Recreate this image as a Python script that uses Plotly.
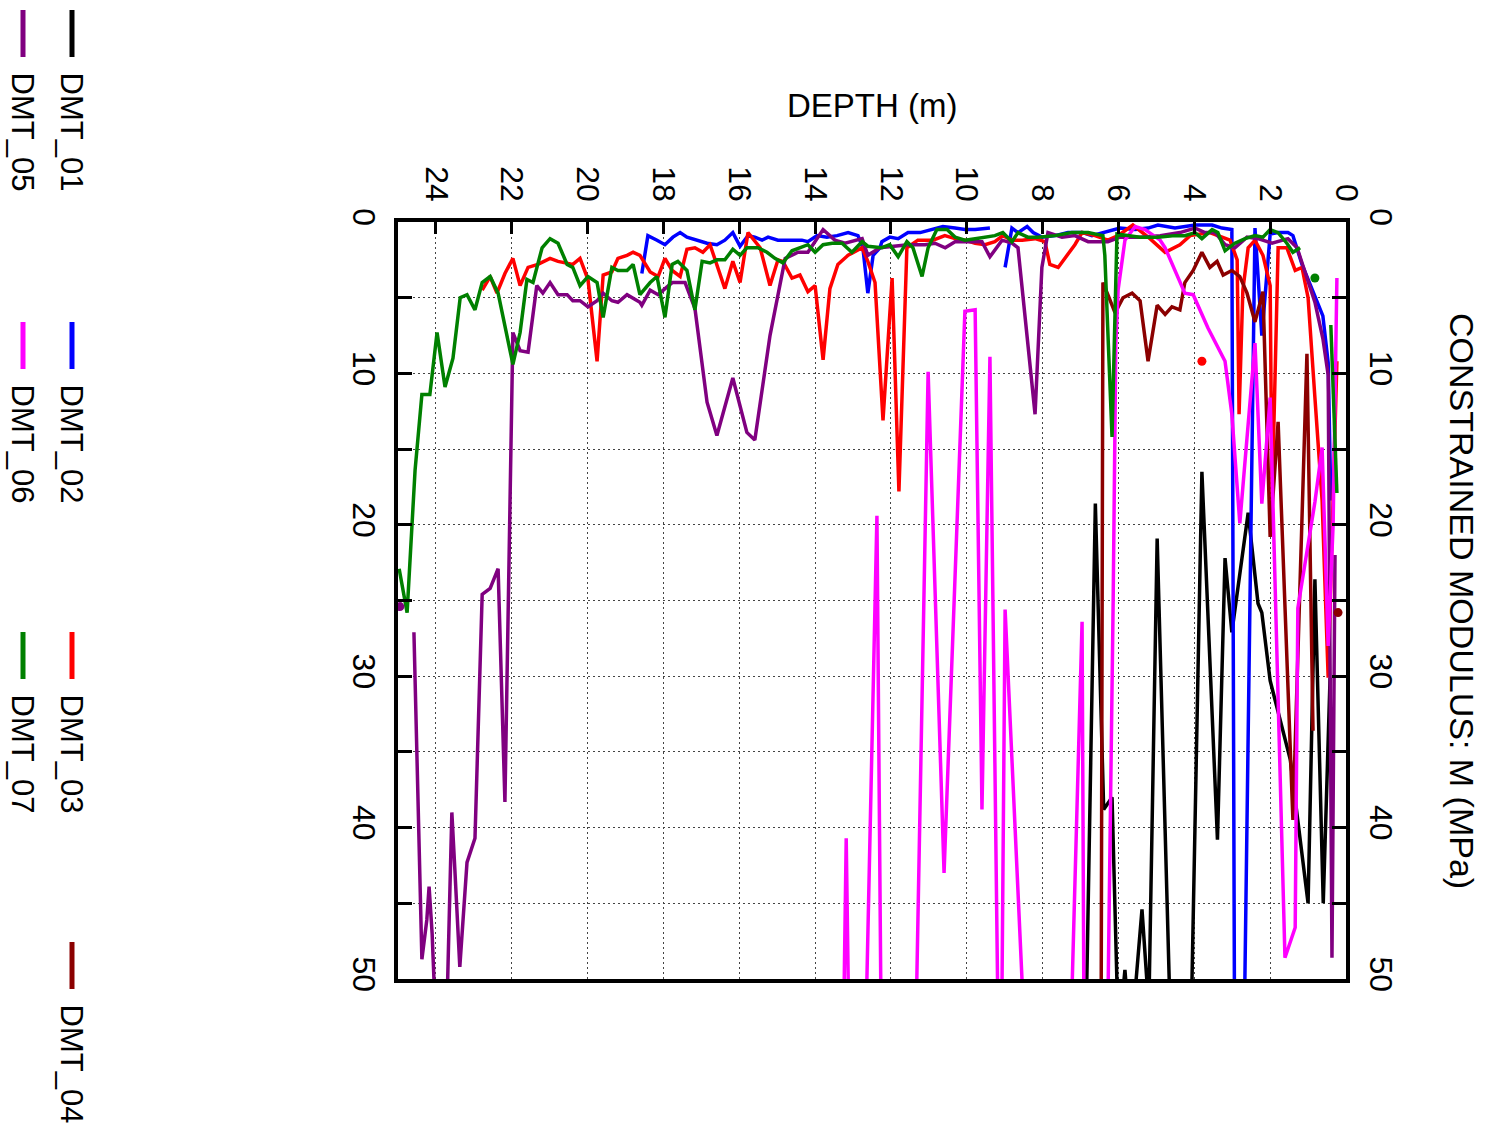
import plotly.graph_objects as go

# ---------------- data (depth in m, constrained modulus M in MPa) ----------------
dmt01_depth = [6.87, 6.61, 6.39, 6.17, 6.0, 5.88, 5.83, 5.78, 5.6, 5.38, 5.2, 4.98, 4.63, 4.1, 3.8,
               3.39, 3.19, 3.01, 2.58, 2.32, 2.22, 2.0, 1.47, 1.0, 0.82, 0.6, 0.42]
dmt01_mod = [55, 18.6, 38.8, 38.0, 54, 51, 49.4, 51, 52, 45.4, 52, 20.9, 53, 55, 16.5,
             40.8, 22.2, 27.1, 19.2, 25.2, 25.8, 30.3, 35.5, 45.0, 23.6, 45.0, 30.1]

dmt02_depth = [18.57, 18.41, 18.17, 17.96, 17.75, 17.56, 17.38, 17.12, 16.85, 16.59, 16.38, 16.17,
               15.98, 15.77, 15.59, 15.4, 15.24, 14.98, 14.61, 14.35, 14.19, 13.95, 13.69, 13.42,
               13.13, 12.87, 12.74, 12.61, 12.47, 12.29, 12.24, 12.03, 11.81, 11.55, 11.23, 10.92,
               10.63, 10.31, 10.05, 9.78, 9.39, None, 8.99, 8.81, 8.65, 8.41, 8.25, 8.02, 7.67,
               7.33, 7.15, 6.94, 6.7, 6.43, 6.14, 5.96, 5.56, 5.22, 4.96, 4.51, 3.98, 3.53, 3.27,
               3.01, 2.93, 2.72, 2.4, 2.22, 2.0, 1.79, 1.53, 1.4, 1.16, 0.9, 0.61, 0.47, 0.4]
dmt02_mod = [3.4, 0.9, 1.2, 1.5, 1.0, 0.7, 1.0, 1.2, 1.4, 1.5, 1.2, 0.7,
             1.6, 0.9, 1.0, 1.2, 1.0, 1.2, 1.2, 1.2, 1.3, 0.9, 1.0, 0.9,
             0.7, 0.9, 1.7, 4.7, 2.2, 1.7, 1.3, 1.0, 1.1, 0.7, 0.7, 0.5,
             0.3, 0.4, 0.5, 0.5, 0.4, None, 3.0, 0.4, 0.7, 0.3, 0.7, 1.0, 0.9,
             0.7, 0.7, 0.7, 0.9, 0.7, 0.5, 0.4, 0.5, 0.4, 0.2, 0.4, 0.2, 0.2, 0.4,
             0.5, 60, 60, 0.4, 7.5, 0.8, 0.7, 0.7, 0.9, 2.8, 4.4, 6.2, 9.3, 18.4]

dmt03_depth = [22.78, 22.57, 22.39, 22.18, 21.97, 21.78, 21.57, 21.31, 20.99, 20.78, 20.39, 20.2,
               19.99, 19.75, 19.59, 19.36, 19.2, 18.96, 18.8, 18.62, 18.35, 18.14, 17.96, 17.77,
               17.56, 17.38, 17.17, 16.96, 16.77, 16.38, 16.17, 15.98, 15.77, 15.45, 15.19, 14.98,
               14.85, 14.61, 14.4, 14.19, 14.0, 13.79, 13.61, 13.4, 13.13, 12.76, 12.61, 12.42,
               12.21, 11.97, 11.79, 11.58, 11.29, 10.89, 10.58, 10.31, 10.05, 9.78, 9.52, 9.26,
               9.05, 8.81, 8.54, 8.2, 7.94, 7.81, 7.59, 7.36, 7.15, 6.96, 6.62, 6.28, 6.01, 5.62,
               5.17, 4.77, 4.38, 4.11, 3.59, 3.06, 2.87, 2.82, 2.72, 2.58, 2.4, 2.19, 2.0, 1.95,
               1.79, 1.56, 1.34, 1.16, 1.0, 0.82, 0.63, 0.47, 0.24]
dmt03_mod = [4.5, 3.6, 4.7, 3.4, 2.4, 4.2, 3.0, 2.8, 2.4, 2.6, 2.8, 2.4,
             3.8, 9.2, 3.5, 3.3, 2.4, 2.2, 2.0, 2.2, 3.3, 3.6, 2.4, 3.2,
             3.6, 1.8, 1.7, 2.0, 1.5, 4.4, 2.6, 4.0, 0.7, 1.7, 4.2, 2.5,
             2.6, 3.7, 3.5, 4.6, 4.2, 9.1, 4.4, 2.8, 2.2, 1.7, 2.6, 4.0,
             13.1, 3.7, 17.8, 1.7, 1.2, 1.2, 0.9, 1.1, 1.2, 1.4, 1.5, 1.3,
             0.9, 1.2, 1.2, 1.1, 1.3, 2.8, 3.0, 2.2, 1.5, 0.7, 0.9, 1.2, 0.9, 0.2,
             1.1, 2.0, 1.5, 0.9, 0.7, 1.2, 2.5, 12.7, 4.5, 1.7, 1.2, 2.2, 4.2, 18.5,
             1.7, 1.7, 3.2, 3.0, 5.0, 11.6, 18.4, 30.1, 9.2]

dmt04_depth = [6.46, 6.41, 6.28, 6.09, 5.88, 5.64, 5.43, 5.22, 4.98, 4.77, 4.59, 4.38, 4.25, 4.03,
               3.8, 3.59, 3.4, 3.24, 3.01, 2.8, 2.61, 2.4, 2.19, 2.0, 1.79, 1.4, 1.03, 0.87]
dmt04_mod = [55, 4.0, 4.8, 6.0, 5.0, 4.7, 5.2, 9.2, 5.5, 6.1, 5.6, 5.8, 4.0, 3.2,
             2.0, 3.0, 2.6, 3.5, 3.2, 3.6, 4.7, 6.6, 4.6, 20.8, 13.2, 39.5, 8.7, 33.6]

dmt05_depth = [24.58, 24.37, 24.24, 24.18, 24.1, 24.02, 23.71, 23.58, 23.5, 23.37, 23.18, 22.97,
               22.78, 22.57, 22.36, 22.18, 21.97, 21.78, 21.57, 21.34, 21.18, 20.99, 20.78, 20.54,
               20.39, 20.2, 19.99, 19.75, 19.59, 19.36, 19.2, 18.96, 18.62, 18.57, 18.35, 18.14,
               17.77, 17.43, 17.17, 16.85, 16.59, 16.17, 15.8, 15.59, 15.19, 14.79, 14.45, 14.19,
               13.79, 13.48, 13.21, 12.76, 12.61, 12.29, 11.55, 11.1, 10.84, 10.57, 10.31, 9.97,
               9.6, 9.39, 9.07, 8.81, 8.65, 8.2, 8.02, 7.86, 7.49, 7.15, 6.8, 6.28, 5.96, 5.43,
               4.9, 4.38, 3.98, 3.72, 3.45, 3.19, 2.93, 2.61, 2.32, 1.95, 1.53, 1.29, 1.08, 0.82,
               0.61, 0.47, 0.37, 0.29]
dmt05_mod = [27.1, 48.7, 46.1, 43.9, 47.0, 52, 52, 39.0, 42.8, 49.2, 42.3, 40.7,
             24.6, 24.2, 22.9, 38.3, 7.3, 8.5, 8.6, 4.2, 4.7, 4.0, 4.8, 4.8,
             5.2, 5.2, 5.6, 5.2, 4.7, 5.2, 5.3, 4.8, 5.3, 5.5, 4.5, 4.8,
             4.0, 4.0, 5.7, 11.9, 14.1, 10.3, 13.9, 14.4, 7.5, 2.4, 2.0, 2.0,
             0.5, 1.2, 1.4, 1.1, 2.2, 1.7, 1.5, 1.5, 1.4, 1.7, 1.3, 1.3,
             1.3, 2.3, 1.2, 1.4, 1.7, 12.7, 3.0, 0.7, 1.0, 0.9, 1.3, 1.3, 1.0, 1.0,
             0.9, 0.7, 0.4, 0.7, 0.7, 1.5, 1.7, 1.0, 1.1, 1.4, 1.1, 1.7, 3.3, 5.3,
             7.7, 10.1, 48.6, 22]

dmt06_depth = [13.26, 13.18, 13.1, 12.82, 12.66, 12.37, 12.26, 11.76, 11.34, 11.02, 10.6, 10.05,
               9.78, 9.6, 9.39, 9.18, 9.08, 8.99, 8.49, 8.07, 7.54, 7.25, 6.96, 6.91, 6.62, 6.28,
               6.14, 6.07, 6.01, 5.83, 5.56, 5.3, 4.9, 4.77, 4.25, 4.03, 3.64, 3.19, 3.01, 2.8,
               2.4, 2.22, 2.0, 1.61, 1.34, 1.27, 0.82, 0.63, 0.47, 0.34, 0.24]
dmt06_mod = [55, 40.7, 55, 60, 53, 19.4, 53, 60, 53, 9.9, 43.0, 5.9,
             5.8, 38.8, 8.9, 52, 53, 25.6, 53, 60, 60, 53, 26.4, 53, 60, 52,
             25, 8, 4.5, 1.2, 0.3, 0.5, 1.2, 1.7, 4.7, 4.8, 7.0, 9.2, 12.7, 19.9,
             8.0, 18.6, 11.6, 48.6, 46.6, 25.5, 18.5, 14.9, 28, 20, 3.7]

dmt07_depth = [24.97, 24.76, 24.55, 24.37, 24.16, 23.97, 23.76, 23.55, 23.36, 23.18, 22.97, 22.78,
               22.57, 22.36, 21.97, 21.78, 21.6, 21.44, 21.2, 20.99, 20.78, 20.54, 20.39, 20.2,
               19.99, 19.75, 19.59, 19.36, 19.2, 18.96, 18.8, 18.62, 18.35, 18.17, 17.96, 17.77,
               17.62, 17.38, 17.17, 16.98, 16.77, 16.59, 16.38, 16.17, 15.98, 15.8, 15.51, 15.27,
               15.06, 14.85, 14.61, 14.4, 14.19, 14.0, 13.79, 13.55, 13.29, 13.03, 12.76, 12.61,
               12.24, 12.03, 11.81, 11.58, 11.42, 11.18, 11.02, 10.79, 10.52, 10.31, 10.05, 9.78,
               9.52, 9.26, 9.05, 8.81, 8.65, 8.39, 8.12, 7.67, 7.23, 6.8, 6.41, 6.36, 6.17, 6.04,
               5.43, 4.96, 4.51, 4.25, 3.98, 3.8, 3.53, 3.38, 3.19, 2.93, 2.66, 2.4, 2.19, 2.0,
               1.79, 1.56, 1.4, 1.21, None, 0.4, 0.24]
dmt07_mod = [22.9, 25.8, 16.4, 11.4, 11.4, 7.3, 10.9, 9.0, 5.0, 4.8, 5.8, 4.0,
             3.6, 4.7, 9.4, 7.3, 3.8, 4.0, 1.7, 1.1, 1.4, 2.8, 3.0, 4.2,
             3.6, 4.0, 6.3, 3.0, 3.2, 3.2, 2.8, 4.8, 4.0, 3.6, 6.3, 2.8,
             2.6, 3.2, 5.8, 2.6, 2.7, 2.5, 2.5, 1.8, 2.2, 1.7, 1.7, 2.0,
             2.4, 2.7, 1.9, 1.7, 1.5, 2.0, 1.5, 1.4, 1.4, 2.0, 1.3, 1.6,
             1.7, 1.5, 2.3, 1.3, 1.7, 3.6, 1.7, 0.5, 0.5, 1.0, 1.2, 1.1,
             1.0, 0.9, 0.7, 1.3, 0.7, 1.0, 1.0, 0.9, 0.7, 0.7, 0.9, 2.2, 14.2, 0.8,
             1.0, 1.0, 0.9, 0.9, 0.7, 1.1, 0.5, 0.7, 1.9, 1.4, 1.1, 0.9, 1.0, 0.5,
             0.7, 1.4, 2.0, 1.7, None, 6.8, 17.9]

# isolated single readings (drawn as points)
point_depth = [24.95, 3.8, 0.21, 0.82]
point_mod = [25.4, 9.2, 25.8, 3.7]
point_color = ["#800080", "#ff0000", "#8b0000", "#008000"]

series_names = ["DMT_01", "DMT_02", "DMT_03", "DMT_04", "DMT_05", "DMT_06", "DMT_07"]
series_colors = ["#000000", "#0000ff", "#ff0000", "#8b0000", "#800080", "#ff00ff", "#008000"]
series_depth = [dmt01_depth, dmt02_depth, dmt03_depth, dmt04_depth, dmt05_depth, dmt06_depth, dmt07_depth]
series_mod = [dmt01_mod, dmt02_mod, dmt03_mod, dmt04_mod, dmt05_mod, dmt06_mod, dmt07_mod]

depth_ticks = list(range(0, 25, 2))
mod_ticks = list(range(0, 51, 5))
mod_labels = [str(v) if v % 10 == 0 else "" for v in mod_ticks]

# ---------------- figure ----------------
FONT = "Liberation Sans, Arial, sans-serif"
W, H = 1488, 1134
L, R, T, B = 398, 1346, 222, 979


def xp(px):
    return (px - L) / (R - L)


def yp(py):
    return (B - py) / (B - T)


fig = go.Figure()
for name, color, d, m in zip(series_names, series_colors, series_depth, series_mod):
    fig.add_trace(go.Scatter(x=d, y=m, mode="lines", name=name,
                             line=dict(color=color, width=3.5), showlegend=False))

fig.add_trace(go.Scatter(x=point_depth, y=point_mod, mode="markers", yaxis="y2",
                         marker=dict(color=point_color, size=9), showlegend=False))

tickfont = dict(family=FONT, size=32, color="black")
grid = dict(showgrid=True, gridcolor="#444444", griddash="2px,3px", gridwidth=1)

fig.update_layout(
    width=W, height=H, autosize=False,
    margin=dict(l=L, r=W - R, t=T, b=H - B, pad=0),
    paper_bgcolor="white", plot_bgcolor="white",
    showlegend=False,
    xaxis=dict(range=[25, 0], side="top", tickmode="array", tickvals=depth_ticks,
               ticktext=[str(v) for v in depth_ticks], tickangle=90,
               ticks="inside", ticklen=12, tickwidth=3, tickcolor="black",
               showline=True, linecolor="black", linewidth=4, mirror=True,
               zeroline=False, tickfont=tickfont, ticklabelstandoff=5, **grid),
    yaxis=dict(range=[50, 0], tickmode="array", tickvals=mod_ticks, ticktext=mod_labels,
               tickangle=90, ticks="inside", ticklen=14, tickwidth=3, tickcolor="black",
               showline=True, linecolor="black", linewidth=4, mirror=True,
               zeroline=False, tickfont=tickfont, ticklabelstandoff=3, **grid),
    yaxis2=dict(range=[50, 0], overlaying="y", side="right", matches="y",
                tickmode="array", tickvals=mod_ticks, ticktext=mod_labels,
                tickangle=90, ticks="inside", ticklen=14, tickwidth=3, tickcolor="black",
                showline=False, showgrid=False, zeroline=False,
                tickfont=tickfont, ticklabelstandoff=17),
)

annotations = [
    dict(text="DEPTH (m)", x=xp(872), y=yp(106), xref="paper", yref="paper",
         xanchor="center", yanchor="middle", showarrow=False,
         font=dict(family=FONT, size=33, color="black")),
    dict(text="CONSTRAINED MODULUS: M (MPa)", x=xp(1462), y=yp(601), xref="paper", yref="paper",
         xanchor="center", yanchor="middle", textangle=90, showarrow=False,
         font=dict(family=FONT, size=34, color="black")),
]

# legend (rotated like the rest of the chart)
legend_cols = [71, 71, 71, 71, 22, 22, 22]
legend_rows = [10, 322, 632, 942, 10, 322, 632]
shapes = []
for name, color, cx, ry in zip(series_names, series_colors, legend_cols, legend_rows):
    shapes.append(dict(type="line", xref="paper", yref="paper",
                       x0=xp(cx + 1), x1=xp(cx + 1), y0=yp(ry), y1=yp(ry + 47),
                       line=dict(color=color, width=5)))
    annotations.append(dict(text=name, x=xp(cx), y=yp(ry + 60), xref="paper", yref="paper",
                            xanchor="center", yanchor="top", textangle=90, showarrow=False,
                            font=dict(family=FONT, size=31, color="black")))

fig.update_layout(annotations=annotations, shapes=shapes)

fig.write_html("out.html")
